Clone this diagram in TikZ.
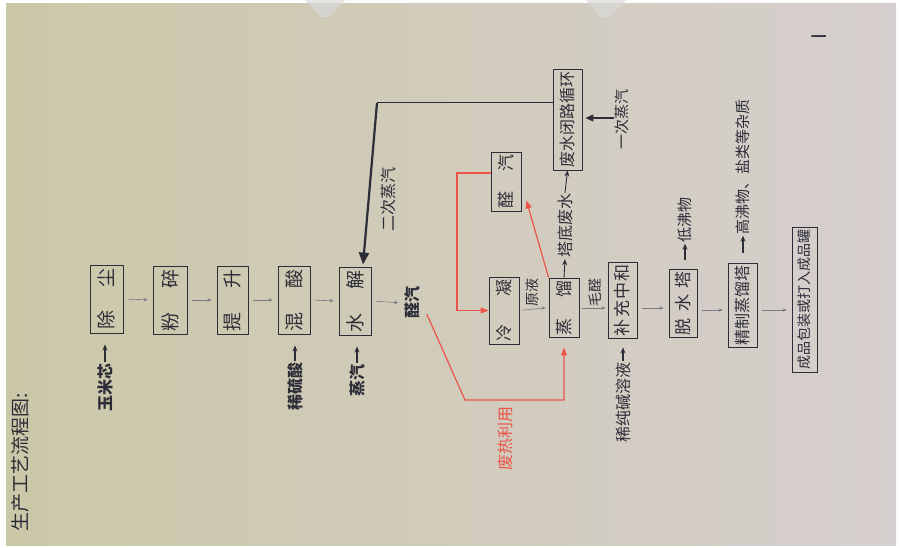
\documentclass[tikz,border=0pt]{standalone}
\usepackage{fontspec}
\setmainfont{Noto Sans CJK SC}
\usetikzlibrary{arrows.meta,positioning,calc}
\definecolor{ink}{RGB}{45,45,55}
\definecolor{redline}{RGB}{236,84,72}
\definecolor{flow}{RGB}{125,120,130}
\definecolor{paperL}{RGB}{203,200,168}
\definecolor{paperM}{RGB}{228,224,212}
\definecolor{paperR}{RGB}{214,207,207}
\newcommand{\vtext}[2]{\rotatebox{90}{\makebox[#1]{#2}}}

\begin{document}
\begin{tikzpicture}[x=1pt,y=-1pt,
  bx/.style={draw=ink,line width=0.9pt,inner sep=0pt,text=ink,font=\fontsize{19}{19}\selectfont},
  lab/.style={text=ink,inner sep=1pt,font=\fontsize{16}{16}\selectfont\bfseries},
  sm/.style={text=ink,inner sep=1pt,font=\fontsize{15}{15}\selectfont},
  flw/.style={draw=flow,line width=0.6pt,-{Stealth[length=4pt,width=3.5pt]},shorten <=5pt,shorten >=5pt},
  fd/.style={draw=ink,line width=1.1pt,-{Stealth[length=6pt,width=5pt]}},
  rd/.style={draw=redline,line width=1.2pt},
  rdarr/.style={rd,-{Triangle[length=8pt,width=6pt]}}]
% photo background
\fill[white] (0,0) rectangle (900,548);
\shade[left color=paperL,middle color=paperM,right color=paperR] (6,4) rectangle (896,545);
\fill[gray!30,opacity=0.7] (305,0) -- (345,0) -- (330,17) -- (320,17) -- cycle;
\fill[gray!30,opacity=0.7] (586,0) -- (626,0) -- (611,17) -- (601,17) -- cycle;
\useasboundingbox (0,0) rectangle (900,548);
\node[sm,font=\fontsize{19}{19}\selectfont] (title) at (20,462) {\rotatebox{90}{生产工艺流程图:}};
\node[text=ink,inner sep=0pt,font=\fontsize{20}{20}\selectfont] (pagenum) at (819,37) {\rotatebox{90}{I}};
% main line
\node[bx,minimum width=33pt,minimum height=68pt] (chuchen) at (106.5,299) {\vtext{62pt}{除\hfill 尘}};
\node[bx,minimum width=34pt,minimum height=68pt] (fensui) at (170,300) {\vtext{62pt}{粉\hfill 碎}};
\node[bx,minimum width=31pt,minimum height=68pt] (tisheng) at (232.5,300) {\vtext{62pt}{提\hfill 升}};
\node[bx,minimum width=32pt,minimum height=68pt] (hunsuan) at (294,300) {\vtext{62pt}{混\hfill 酸}};
\node[bx,minimum width=32pt,minimum height=68pt] (shuijie) at (355,301) {\vtext{62pt}{水\hfill 解}};
\foreach \a/\b in {chuchen/fensui,fensui/tisheng,tisheng/hunsuan,hunsuan/shuijie}
  \draw[flw] (\a.east) -- (\b.west);
\node[lab] (yumi) at (105,387) {\rotatebox{90}{玉米芯}};
\node[lab] (xiliu) at (295,386) {\rotatebox{90}{稀硫酸}};
\node[lab] (zhengqi) at (357,380) {\rotatebox{90}{蒸汽}};
\draw[fd,shorten >=11pt] (yumi.north) -- (yumi.north |- chuchen.south);
\draw[fd,shorten >=11pt] (xiliu.north) -- (xiliu.north |- hunsuan.south);
\draw[fd,shorten >=11pt] (zhengqi.north) -- (zhengqi.north |- shuijie.south);
\node[lab] (quanqi) at (412,303) {\rotatebox{90}{醛汽}};
\draw[flw] (shuijie.east) -- (quanqi.west);
% waste water loop and secondary steam
\node[bx,font=\fontsize{16}{16}\selectfont,minimum width=29pt,minimum height=101pt] (fsxh) at (567.5,119.5) {\vtext{96pt}{废水闭路循环}};
\coordinate (ercorner) at (377,103);
\draw[ink,line width=1pt] (fsxh.west |- ercorner) -- (ercorner);
\draw[ink,line width=2.2pt,-{Triangle[length=12pt,width=10pt]}] (ercorner) -- ([xshift=8pt,yshift=2pt]shuijie.north);
\node[sm,font=\fontsize{16}{16}\selectfont] (erci) at (388,200) {\rotatebox{90}{二次蒸汽}};
\node[sm] (yici) at (622,120) {\rotatebox{90}{一次蒸汽}};
\draw[ink,line width=1.2pt,-{Triangle[length=8pt,width=7pt]},shorten >=3pt] (yici.west |- 0,118) -- (fsxh.east |- 0,118);
% distillation
\node[bx,font=\fontsize{17}{17}\selectfont,minimum width=30pt,minimum height=59pt] (quanqibox) at (506,181.5) {\vtext{54pt}{醛\hfill 汽}};
\node[bx,font=\fontsize{17}{17}\selectfont,minimum width=30pt,minimum height=67pt] (lengning) at (504,310.5) {\vtext{62pt}{冷\hfill 凝}};
\node[bx,font=\fontsize{17}{17}\selectfont,minimum width=30pt,minimum height=59pt] (zhengliu) at (564,307.5) {\vtext{55pt}{蒸\hfill 馏}};
\node[sm,font=\fontsize{14}{14}\selectfont] (yuanye) at (532,292) {\rotatebox{90}{原液}};
\draw[flw,shorten <=3pt,shorten >=3pt] (lengning.east) -- (zhengliu.west);
\node[sm,font=\fontsize{16}{16}\selectfont] (tadi) at (565,226) {\rotatebox{90}{塔底废水}};
\draw[fd,line width=0.9pt] (zhengliu.north) -- (tadi.south);
\draw[fd,line width=0.9pt] (tadi.north) -- (fsxh.south);
% red heat recovery
\coordinate (feirecorner) at (465,400);
\draw[rdarr,shorten >=10pt] ([xshift=6pt,yshift=6pt]quanqi.south east) -- (feirecorner) -| (zhengliu.south);
\node[text=redline,inner sep=1pt,font=\fontsize{16}{16}\selectfont] (feire) at (505,438) {\rotatebox{90}{废热利用}};
\coordinate (redtop) at (457,173);
\draw[rdarr] (quanqibox.west |- redtop) -- (redtop) |- (lengning.west);
\draw[rdarr] (zhengliu.north west) -- ([xshift=5pt,yshift=11pt]quanqibox.south east);
% refining
\node[sm,font=\fontsize{14}{14}\selectfont] (maoquan) at (595,292) {\rotatebox{90}{毛醛}};
\node[bx,font=\fontsize{17}{17}\selectfont,minimum width=29pt,minimum height=76pt] (buchong) at (622.5,300) {\vtext{72pt}{补\hfill 充\hfill 中\hfill 和}};
\node[bx,font=\fontsize{17}{17}\selectfont,minimum width=28pt,minimum height=68pt] (tuoshui) at (683,303) {\vtext{64pt}{脱\hfill 水\hfill 塔}};
\node[bx,font=\fontsize{16}{16}\selectfont,minimum width=29pt,minimum height=84pt] (jingzhi) at (742.5,305) {\vtext{80pt}{精制蒸馏塔}};
\node[bx,font=\fontsize{14}{14}\selectfont,minimum width=25pt,minimum height=145pt] (chengpin) at (804.5,299.5) {\vtext{140pt}{成品包装或打入成品罐}};
\draw[flw,shorten <=3pt,shorten >=2pt] (zhengliu.east |- 0,308) -- (buchong.west |- 0,308);
\draw[flw] (buchong.east |- 0,308) -- (tuoshui.west |- 0,308);
\draw[flw] (tuoshui.east |- 0,310) -- (jingzhi.west |- 0,310);
\draw[flw] (jingzhi.east |- 0,310) -- (chengpin.west |- 0,310);
\node[sm,font=\fontsize{16}{16}\selectfont] (xichun) at (623,402) {\rotatebox{90}{稀纯碱溶液}};
\draw[fd,shorten >=9pt] (xichun.north) -- (xichun.north |- buchong.south);
\node[sm] (difei) at (685,220) {\rotatebox{90}{低沸物}};
\draw[fd,shorten <=9pt] (difei.south |- tuoshui.north) -- (difei.south);
\node[sm] (gaofei) at (743,167) {\rotatebox{90}{高沸物、盐类等杂质}};
\draw[fd,shorten <=10pt] (gaofei.south |- jingzhi.north) -- (gaofei.south);
\end{tikzpicture}
\end{document}
